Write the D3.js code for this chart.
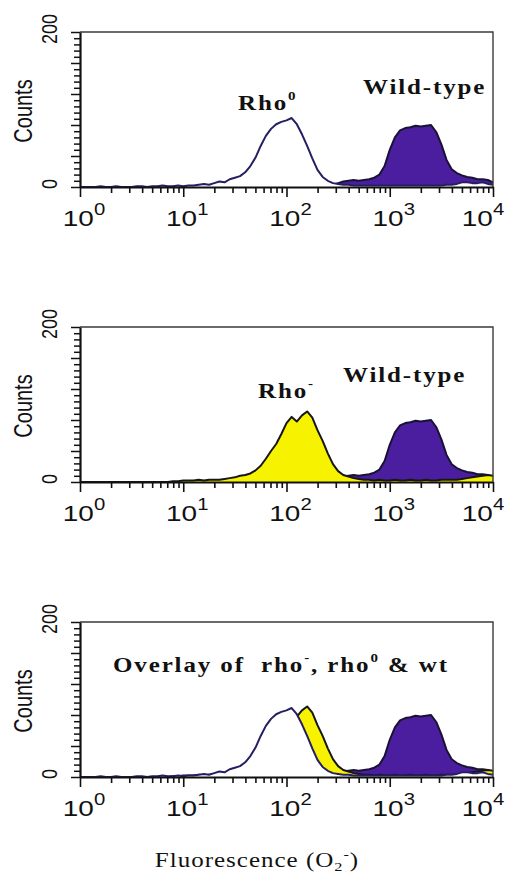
<!DOCTYPE html>
<html><head><meta charset="utf-8">
<script src="https://cdn.jsdelivr.net/npm/d3@7/dist/d3.min.js"></script>
<style>body{margin:0;background:#fff}svg{display:block}text{white-space:pre}</style>
</head><body><svg id="c" width="515" height="884"></svg>
<script>
// Fluorescence channels (log10 of intensity)
const logChannels = [0,0.05,0.1,0.15,0.2,0.25,0.3,0.35,0.4,0.45,0.5,0.55,0.6,0.65,0.7,0.75,0.8,0.85,0.9,0.95,
  1,1.05,1.1,1.15,1.2,1.25,1.3,1.35,1.4,1.45,1.5,1.55,1.6,1.65,1.7,1.75,1.8,1.85,1.9,1.95,
  2,2.05,2.1,2.15,2.2,2.25,2.3,2.35,2.4,2.45,2.5,2.55,2.6,2.65,2.7,2.75,2.8,2.85,2.9,2.95,
  3,3.05,3.1,3.15,3.2,3.25,3.3,3.35,3.4,3.45,3.5,3.55,3.6,3.65,3.7,3.75,3.8,3.85,3.9,3.95,4];
const rho0Counts = [0,0,0,0,1,0,0,1,0,0,0,1,1,0,1,1,2,1,1,2,
  1,2,2,3,4,3,5,7,6,10,12,14,19,27,38,53,66,75,81,84,
  86,89,81,68,53,37,22,13,8,5,4,3,3,2,2,2,2,2,2,2,
  2,2,2,2,2,2,2,2,2,2,2,3,3,4,6,6,5,5,6,4,3];
const rhoMinusCounts = [0,0,0,0,0,0,0,0,0,0,0,0,0,0,0,0,0,0,1,1,
  2,2,2,3,2,3,3,3,4,5,6,8,9,11,15,21,30,40,49,62,
  76,84,78,86,91,83,67,53,37,23,14,9,7,5,4,3,3,2,3,2,
  2,3,2,2,3,2,2,3,2,2,3,3,3,3,4,5,6,7,8,9,8];
const wildTypeCounts = [0,0,0,0,0,0,0,0,0,0,0,0,0,0,0,0,0,0,0,0,
  0,0,0,0,0,0,0,0,0,0,0,0,0,0,0,0,0,0,0,0,
  0,0,0,0,0,0,0,0,0,3,5,7,8,9,8,9,10,12,16,27,
  48,64,73,76,77,79,78,79,80,71,55,35,23,18,15,13,12,10,10,9,6];
const xTickExponents = [0,1,2,3,4];
const yTickLabels = [0,200];
const yMax = 200;

const series = {
  wt:   {counts: wildTypeCounts, fill: "#4a1e9e", stroke: "#1a1235", sw: 2},
  rhoM: {counts: rhoMinusCounts, fill: "#f7f300", stroke: "#161616", sw: 2},
  rho0: {counts: rho0Counts,     fill: "#ffffff", stroke: "#241f62", sw: 2}
};

const panels = [
  {top: 32,  order: ["wt","rho0"],
   labels: [{x:238, y:110, parts:[["Rho",0],["0",1]]}, {x:363, y:94, parts:[["Wild-type",0]]}]},
  {top: 327, order: ["wt","rhoM"],
   labels: [{x:258, y:398, parts:[["Rho",0],["-",1]]}, {x:343, y:382, parts:[["Wild-type",0]]}]},
  {top: 622, order: ["wt","rhoM","rho0"],
   labels: [{x:113, y:672, parts:[["Overlay of  rho",0],["-",1],[", rho",0],["0",1],[" & wt",0]]}]}
];

const svg = d3.select("#c");
const L = 80, R = 493, H = 155, SX = 1.27;
const x = d3.scaleLog().domain([1, 1e4]).range([L, R]);

const majorX = xTickExponents.map(e => Math.pow(10, e));
const minorX = [];
for (let e = 0; e < 4; e++) for (let k = 2; k <= 9; k++) minorX.push(k * Math.pow(10, e));

panels.forEach(p => {
  const y = d3.scaleLinear().domain([0, yMax]).range([p.top + H, p.top]);
  const g = svg.append("g");
  const data = (key) => logChannels.map((lc, i) => ({ch: Math.pow(10, lc), c: series[key].counts[i]}));
  const area = d3.area().x(d => x(d.ch)).y0(y(0)).y1(d => y(d.c));
  const line = d3.line().x(d => x(d.ch)).y(d => y(d.c));

  p.order.forEach(key => {
    const s = series[key], d = data(key);
    g.append("path").attr("d", area(d)).attr("fill", s.fill);
    g.append("path").attr("d", line(d)).attr("fill", "none")
      .attr("stroke", s.stroke).attr("stroke-width", s.sw).attr("stroke-linejoin", "round");
  });

  // frame top/right
  g.append("path").attr("d", `M${L},${p.top}H${R}V${p.top + H}`)
    .attr("fill", "none").attr("stroke", "#3a3a3a").attr("stroke-width", 1.4);

  // x axis
  const xa = g.append("g").attr("transform", `translate(0,${p.top + H})`)
    .call(d3.axisBottom(x).tickValues(majorX.concat(minorX)).tickFormat("").tickSizeOuter(0));
  xa.select(".domain").attr("stroke", "#111").attr("stroke-width", 2.2);
  xa.selectAll(".tick line").attr("stroke", "#111").attr("stroke-width", 1.6)
    .attr("y2", d => majorX.includes(d) ? 10 : 6);

  // y axis
  const yt = d3.range(0, yMax + 1, 8);
  const ya = g.append("g").attr("transform", `translate(${L},0)`)
    .call(d3.axisLeft(y).tickValues(yt).tickFormat("").tickSizeOuter(0));
  ya.select(".domain").attr("stroke", "#111").attr("stroke-width", 2.2);
  ya.selectAll(".tick line").attr("stroke", "#111").attr("stroke-width", 1.5)
    .attr("x2", d => d % 40 === 0 ? -9 : -6);

  // x tick labels
  xTickExponents.forEach((e, i) => {
    const px = x(Math.pow(10, e)) + (i === xTickExponents.length - 1 ? -10 : 4);
    const t = g.append("text").attr("transform", `translate(${px},${p.top + H + 39}) scale(${SX},1)`)
      .attr("text-anchor", "middle").attr("font-family", "Liberation Sans, Arial, sans-serif")
      .attr("font-size", 22).attr("fill", "#111");
    t.append("tspan").text("10");
    t.append("tspan").attr("font-size", 16).attr("dy", -11).text(String(e));
  });

  // y tick labels
  yTickLabels.forEach(v => {
    g.append("text").attr("transform", `translate(57,${y(v) - 3}) scale(${SX},1) rotate(-90)`)
      .attr("text-anchor", "middle").attr("font-family", "Liberation Sans, Arial, sans-serif")
      .attr("font-size", 18).attr("fill", "#111").text(String(v));
  });

  // Counts label
  g.append("text").attr("transform", `translate(32,${p.top + 79}) scale(${SX},1) rotate(-90)`)
    .attr("text-anchor", "middle").attr("font-family", "Liberation Sans, Arial, sans-serif")
    .attr("font-size", 20).attr("fill", "#111").text("Counts");

  // annotations
  p.labels.forEach(lb => {
    const t = g.append("text").attr("transform", `translate(${lb.x},${lb.y}) scale(1.25,1)`)
      .attr("font-family", "Liberation Serif, Times New Roman, serif").attr("font-weight", "bold")
      .attr("font-size", 20).attr("letter-spacing", 1.5).attr("fill", "#111");
    let sup = false;
    lb.parts.forEach(([txt, isSup]) => {
      const ts = t.append("tspan").text(txt);
      if (isSup && !sup) { ts.attr("dy", -10).attr("font-size", 12); sup = true; }
      else if (isSup) { ts.attr("font-size", 12); }
      else if (sup) { ts.attr("dy", 10); sup = false; }
    });
  });
});

// x axis title
const xt = svg.append("text").attr("transform", `translate(257,867) scale(1.25,1)`)
  .attr("text-anchor", "middle").attr("font-family", "Liberation Serif, Times New Roman, serif")
  .attr("font-size", 20).attr("letter-spacing", 0.8).attr("fill", "#111");
xt.append("tspan").text("Fluorescence (O");
xt.append("tspan").attr("font-size", 13).attr("dy", 4).text("2");
xt.append("tspan").attr("font-size", 13).attr("dy", -12).text("-");
xt.append("tspan").attr("dy", 8).text(")");
</script></body></html>
